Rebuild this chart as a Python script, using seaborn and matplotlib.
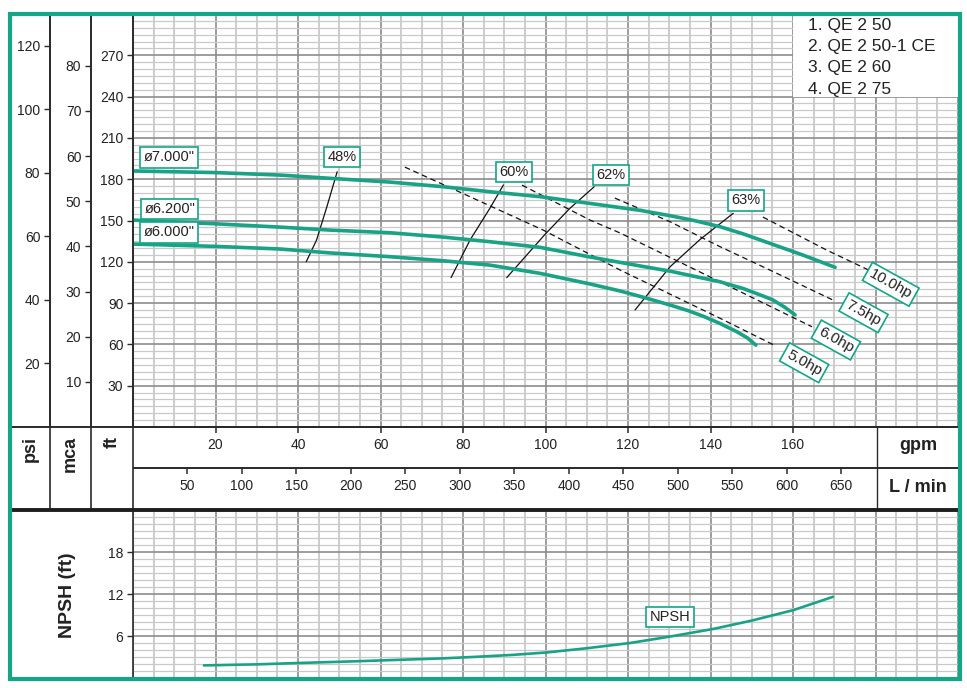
import matplotlib
matplotlib.use("Agg")
import matplotlib.pyplot as plt
import seaborn as sns
import pandas as pd
from matplotlib.lines import Line2D
from matplotlib.patches import Rectangle
from matplotlib.ticker import MultipleLocator

# ---------------- data ----------------
# head curves (gpm, ft)
q_700 = [0, 20, 35.6, 48.0, 62.3, 75, 86.5, 98.7, 110.8, 122.9, 130.2, 136, 142.3,
         148, 154.4, 162.4, 170.2]
h_700 = [186.0, 184.8, 183.0, 180.6, 177.9, 174.6, 170.9, 167.3, 162.4, 157.4,
         153.5, 150.0, 145.5, 140.2, 133.4, 124.9, 116.0]
q_620 = [0, 20, 35.6, 48, 62.3, 75, 86.5, 98.7, 110.8, 122.9, 130.2, 136, 142.3,
         148, 152, 155, 158, 160.5]
h_620 = [150.3, 147.6, 145.2, 143.0, 141.1, 138.0, 134.6, 130.5, 123.5, 117.0,
         113.2, 109.5, 105.5, 100.5, 96.0, 92.5, 87.0, 81.5]
q_600 = [0, 20, 35.6, 48.0, 62.3, 75, 86.5, 98.7, 110.8, 118.1, 124, 130.2, 134.5,
         138.2, 142.3, 146.4, 149, 151.0]
h_600 = [132.9, 131.2, 129.3, 126.4, 123.7, 120.8, 117.6, 111.6, 103.9, 98.8,
         94.0, 88.6, 84.6, 80.5, 75.2, 69.2, 64.6, 59.5]
dia_labels = ['ø7.000"', 'ø6.200"', 'ø6.000"']
dia_label_q = [8.7, 8.9, 8.7]
dia_label_h = [195.9, 158.3, 141.4]

# efficiency iso-lines
eff_labels = ["48%", "60%", "62%", "63%"]
eff_q = [[42.0, 44.5, 47.0, 49.5], [77.1, 81.7, 86.5, 89.8],
         [90.6, 99.9, 105.9, 111.8], [121.7, 130.2, 137.5, 145.5]]
eff_h = [[120.1, 135.8, 160.0, 185.4], [108.5, 135.8, 158.8, 175.8],
         [108.5, 140.0, 158.8, 174.5], [85.0, 116.4, 136.3, 155.2]]
eff_label_q = [50.7, 92.4, 115.9, 148.6]
eff_label_h = [196.1, 185.1, 183.0, 164.6]

# power lines (dashed)
hp_labels = ["5.0hp", "6.0hp", "7.5hp", "10.0hp"]
hp_q = [[65.9, 99.4, 118.1, 142.3, 155.6], [94.3, 110.8, 118.1, 142.3, 164.6],
        [116.8, 130.2, 142.3, 154.4, 169.7], [152.7, 168.1, 178.7]]
hp_h = [[188.8, 143.1, 114.0, 79.0, 59.2], [175.7, 150.3, 140.9, 105.5, 72.8],
        [166.3, 149.1, 131.0, 114.0, 92.2], [152.5, 128.6, 113.5]]
hp_label_q = [162.7, 170.4, 177.1, 183.7]
hp_label_h = [46.7, 63.2, 83.0, 103.7]

# NPSH curve
npsh_q = [17.2, 30, 40.5, 52, 64.7, 75, 84.0, 92, 100.3, 110, 120.5, 130, 140.6,
          150, 160.1, 169.7]
npsh_h = [1.8, 1.95, 2.15, 2.35, 2.6, 2.8, 3.05, 3.3, 3.65, 4.25, 5.0, 5.9, 7.0,
          8.2, 9.7, 11.6]

legend_lines = ["1. QE 2 50", "2. QE 2 50-1 CE", "3. QE 2 60", "4. QE 2 75"]
legend_h = [291.8, 276.6, 260.9, 245.3]

ft_ticks = [30, 60, 90, 120, 150, 180, 210, 240, 270]
psi_ticks = [20, 40, 60, 80, 100, 120]
mca_ticks = [10, 20, 30, 40, 50, 60, 70, 80]
gpm_ticks = [20, 40, 60, 80, 100, 120, 140, 160]
lpm_ticks = [50, 100, 150, 200, 250, 300, 350, 400, 450, 500, 550, 600, 650]
npsh_ticks = [6, 12, 18]

FT_PER_PSI = 2.3067
FT_PER_M = 3.2808
LPM_PER_GPM = 3.7854

# ---------------- style ----------------
sns.set_theme(style="white")
plt.rcParams["font.family"] = ["Liberation Sans", "DejaVu Sans"]
GREEN = "#15a688"
CURVE = "#18a286"
MAJ = "#8c8c8c"
MIN = "#c9c9c9"
DARK = "#2a2a2a"
TXT = "#222222"

W, H = 967, 688
fig = plt.figure(figsize=(W / 100, H / 100), dpi=100)
fig.patch.set_facecolor("white")


def R(x0, y0, x1, y1):
    return [x0 / W, 1 - y1 / H, (x1 - x0) / W, (y1 - y0) / H]


def fline(x0, y0, x1, y1, lw=1.0, color=DARK, z=5):
    fig.add_artist(Line2D([x0 / W, x1 / W], [1 - y0 / H, 1 - y1 / H],
                          transform=fig.transFigure, lw=lw, color=color,
                          zorder=z, solid_capstyle="butt"))


def grid_setup(ax, ymaj, ymin):
    ax.xaxis.set_major_locator(MultipleLocator(20))
    ax.xaxis.set_minor_locator(MultipleLocator(5))
    ax.yaxis.set_minor_locator(MultipleLocator(ymin))
    ax.grid(which="major", axis="x", color=MAJ, lw=1.2)
    ax.grid(which="minor", axis="x", color=MIN, lw=1.3)
    ax.grid(which="major", axis="y", color=MAJ, lw=1.2)
    ax.grid(which="minor", axis="y", color=MIN, lw=0.9)
    ax.set_axisbelow(True)
    ax.tick_params(axis="x", which="both", length=0, labelbottom=False)
    ax.tick_params(axis="y", which="minor", length=0)
    ax.tick_params(axis="y", which="major", left=True, length=4, width=1,
                   color=DARK, labelsize=10, labelcolor=TXT, pad=3)
    for s in ["top", "right"]:
        ax.spines[s].set_visible(False)
    ax.spines["left"].set_color(DARK)
    ax.spines["left"].set_linewidth(1.2)
    ax.spines["bottom"].set_color(DARK)
    ax.spines["bottom"].set_linewidth(1.2)


def label_box(ax, x, y, s, rot=0, fs=10.5):
    ax.text(x, y, s, ha="center", va="center", fontsize=fs, color=TXT,
            rotation=rot, rotation_mode="anchor", zorder=6,
            bbox=dict(boxstyle="square,pad=0.22", fc="white", ec=GREEN, lw=1.2))


# ---------------- main head chart ----------------
ax = fig.add_axes(R(133, 14, 958, 427))
ax.set_xlim(0, 200)
ax.set_ylim(0, 300)
grid_setup(ax, 30, 5)
ax.set_yticks(ft_ticks)

for q, h in [(q_700, h_700), (q_620, h_620), (q_600, h_600)]:
    sns.lineplot(x=q, y=h, ax=ax, color=CURVE, lw=2.6, sort=False,
                 estimator=None, zorder=4)
for s, x, y in zip(dia_labels, dia_label_q, dia_label_h):
    label_box(ax, x, y, s)

for q, h in zip(eff_q, eff_h):
    sns.lineplot(x=q, y=h, ax=ax, color="#111111", lw=0.9, sort=False,
                 estimator=None, zorder=3)
for s, x, y in zip(eff_labels, eff_label_q, eff_label_h):
    label_box(ax, x, y, s)

for q, h in zip(hp_q, hp_h):
    sns.lineplot(x=q, y=h, ax=ax, color="#111111", lw=0.9, sort=False,
                 estimator=None, zorder=3, linestyle=(0, (4.5, 3)))
for s, x, y in zip(hp_labels, hp_label_q, hp_label_h):
    label_box(ax, x, y, s, rot=-29, fs=11)

ax.add_patch(Rectangle((160, 240), 41, 61, fc="white", ec="none", zorder=3.5,
                       clip_on=False))
for s, y in zip(legend_lines, legend_h):
    ax.text(163.6, y, s, fontsize=12.5, color=TXT, va="center", ha="left",
            zorder=5)
ax.set_xlabel("")
ax.set_ylabel("")

# ---------------- psi and mca scales ----------------
for x0, x1, top, ticks in [(50, 91, 300 / FT_PER_PSI, psi_ticks),
                           (91, 133, 300 / FT_PER_M, mca_ticks)]:
    a = fig.add_axes(R(x0, 14, x1, 427))
    a.set_ylim(0, top)
    a.set_xlim(0, 1)
    a.patch.set_visible(False)
    for s in ["top", "right", "bottom"]:
        a.spines[s].set_visible(False)
    a.spines["left"].set_color(DARK)
    a.spines["left"].set_linewidth(1.2)
    a.set_xticks([])
    a.set_yticks(ticks)
    a.tick_params(axis="y", left=True, length=4, width=1, color=DARK,
                  labelsize=10, labelcolor=TXT, pad=3)

# ---------------- flow scale band ----------------
ax_g = fig.add_axes(R(133, 427, 958, 467.5))
ax_g.set_xlim(0, 200)
ax_g.set_ylim(0, 1)
ax_l = fig.add_axes(R(133, 467.5, 958, 509))
ax_l.set_xlim(0, 200 * LPM_PER_GPM)
ax_l.set_ylim(0, 1)
for a, ticks, yl in [(ax_g, gpm_ticks, 0.556), (ax_l, lpm_ticks, 0.554)]:
    a.patch.set_visible(False)
    for s in a.spines.values():
        s.set_visible(False)
    a.set_yticks([])
    a.set_xticks(ticks)
    a.tick_params(axis="x", top=True, bottom=False, direction="in", length=4.5,
                  width=1.1, color=DARK, labeltop=False, labelbottom=False)
    for t in ticks:
        a.text(t, yl, str(t), ha="center", va="center", fontsize=10, color=TXT)

fig.text(30 / W, 1 - 436 / H, "psi", rotation=90, ha="center", va="top",
         fontsize=13, fontweight="bold", color=TXT)
fig.text(70 / W, 1 - 436 / H, "mca", rotation=90, ha="center", va="top",
         fontsize=13, fontweight="bold", color=TXT)
fig.text(112 / W, 1 - 436 / H, "ft", rotation=90, ha="center", va="top",
         fontsize=13, fontweight="bold", color=TXT)
fig.text(918 / W, 1 - 445 / H, "gpm", ha="center", va="center",
         fontsize=13, fontweight="bold", color=TXT)
fig.text(918 / W, 1 - 488 / H, "L / min", ha="center", va="center",
         fontsize=13, fontweight="bold", color=TXT)

# ---------------- NPSH chart ----------------
ax_n = fig.add_axes(R(133, 510, 958, 678))
ax_n.set_xlim(0, 200)
ax_n.set_ylim(0, 24)
grid_setup(ax_n, 6, 1)
ax_n.set_yticks(npsh_ticks)
sns.lineplot(x=npsh_q, y=npsh_h, ax=ax_n, color=CURVE, lw=1.9, sort=False,
             estimator=None, zorder=4)
label_box(ax_n, 130.2, 8.7, "NPSH", fs=10.5)
ax_n.set_xlabel("")
ax_n.set_ylabel("")
fig.text(67 / W, 1 - 595 / H, "NPSH (ft)", rotation=90, ha="center",
         va="center", fontsize=14, fontweight="bold", color=TXT)

# ---------------- frame lines ----------------
for x in (50, 91, 133):
    fline(x, 14, x, 510, lw=1.2)
fline(877, 427, 877, 510, lw=1.0)
fline(9, 427, 958, 427, lw=1.4)
fline(133, 467.5, 958, 467.5, lw=1.4)
fline(9, 510, 960, 510, lw=2.8, color="#1e1e1e")

fig.add_artist(Rectangle((9.5 / W, 1 - 679 / H), (960 - 9.5) / W, (679 - 13.5) / H,
                         transform=fig.transFigure, fill=False, ec=GREEN,
                         lw=3.0, zorder=20))

fig.savefig("out.png", dpi=100, facecolor="white")
